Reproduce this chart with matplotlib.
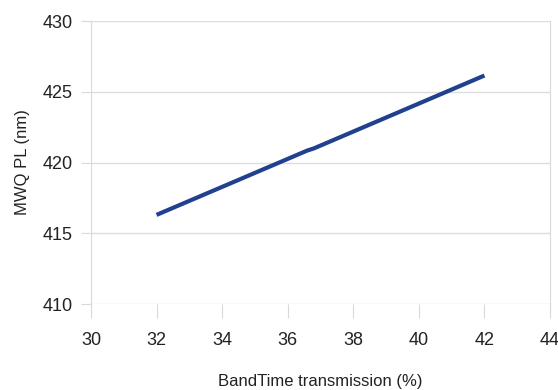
import matplotlib
matplotlib.use("Agg")
import matplotlib.pyplot as plt

plt.rcParams['font.family'] = ['Liberation Sans', 'DejaVu Sans']

x_vals = [32, 36.6, 36.8, 42]
y_vals = [416.3, 420.85, 421.0, 426.15]
x_ticks = [30, 32, 34, 36, 38, 40, 42, 44]
y_ticks = [410, 415, 420, 425, 430]

fig = plt.figure(figsize=(5.58, 3.9), dpi=100)
ax = fig.add_axes([0.163, 0.2205, 0.8227, 0.7255])
ax.plot(x_vals, y_vals, color="#21418f", lw=3, solid_capstyle="butt")
ax.set_xlim(30, 44)
ax.set_ylim(410, 430)
ax.set_xticks(x_ticks)
ax.set_yticks(y_ticks)
ax.yaxis.grid(True, color="#dddddd", lw=1)
ax.set_axisbelow(True)
for s in ["top", "bottom"]:
    ax.spines[s].set_visible(False)
for s in ["left", "right"]:
    ax.spines[s].set_color("#d9d9d9")
ax.tick_params(axis="x", length=10, color="#d9d9d9", labelsize=13, labelcolor="#222222", pad=10)
ax.tick_params(axis="y", length=7, color="#d9d9d9", labelsize=13, labelcolor="#222222", pad=6)
ax.set_xlabel("BandTime transmission (%)", fontsize=12, color="#222222", labelpad=18)
ax.set_ylabel("MWQ PL (nm)", fontsize=12, color="#222222", labelpad=9)
fig.savefig("out.png", dpi=100)
